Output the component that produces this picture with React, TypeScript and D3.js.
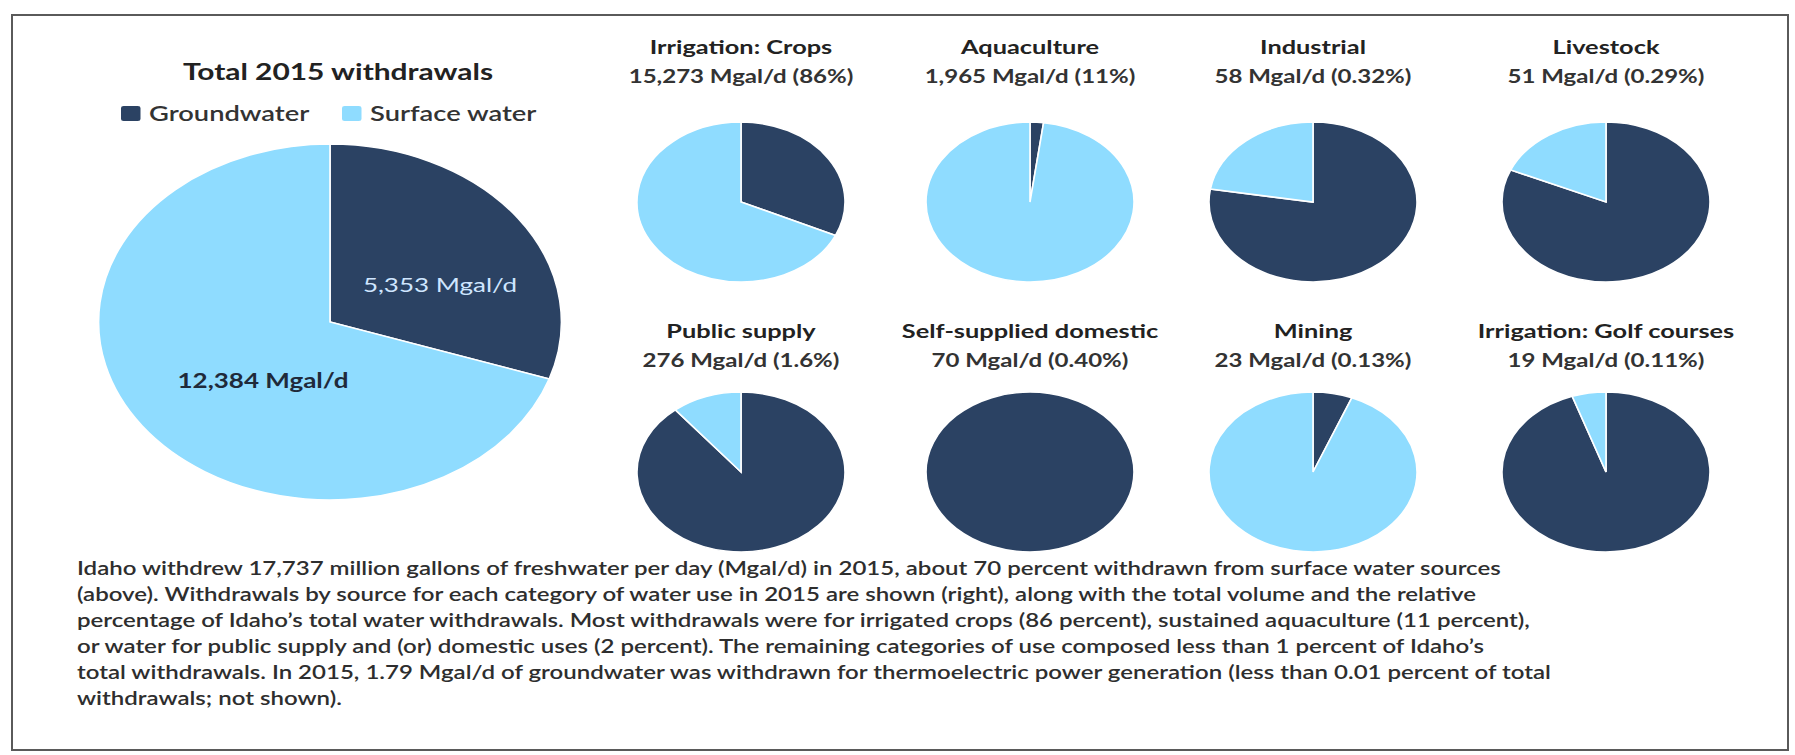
import * as d3 from 'd3';

// horizontal stretch of the original figure (pies and text are wider than tall)
const K = 1.3;
const GROUND = '#2b4263';
const SURFACE = '#8fdcff';
const FONT = "Lato, 'Open Sans', sans-serif";

const sources = ['Groundwater', 'Surface water'];
const totalValues = [5353, 12384];

const categories = [
  'Irrigation: Crops',
  'Aquaculture',
  'Industrial',
  'Livestock',
  'Public supply',
  'Self-supplied domestic',
  'Mining',
  'Irrigation: Golf courses',
];
const categoryTotals = [15273, 1965, 58, 51, 276, 70, 23, 19];
const categoryShares = ['86%', '11%', '0.32%', '0.29%', '1.6%', '0.40%', '0.13%', '0.11%'];
const groundwater = [4870, 41, 45, 41.6, 246, 70, 1.4, 18];
const surfaceWater = [10403, 1924, 13, 9.4, 30, 0, 21.6, 1];

const captionLines = [
  'Idaho withdrew 17,737 million gallons of freshwater per day (Mgal/d) in 2015, about 70 percent withdrawn from surface water sources',
  '(above). Withdrawals by source for each category of water use in 2015 are shown (right), along with the total volume and the relative',
  'percentage of Idaho\u2019s total water withdrawals. Most withdrawals were for irrigated crops (86 percent), sustained aquaculture (11 percent),',
  'or water for public supply and (or) domestic uses (2 percent). The remaining categories of use composed less than 1 percent of Idaho\u2019s',
  'total withdrawals. In 2015, 1.79 Mgal/d of groundwater was withdrawn for thermoelectric power generation (less than 0.01 percent of total',
  'withdrawals; not shown).',
];

const colX = [741, 1030, 1313, 1606];
const rowY = [202, 472];
const fmt = d3.format(',');
const color = d3.scaleOrdinal<string, string>().domain(sources).range([GROUND, SURFACE]);

const pie = d3.pie<number>().sort(null).value((d) => d);

function Pie({ cx, cy, r, values }: { cx: number; cy: number; r: number; values: number[] }) {
  const arc = d3.arc<d3.PieArcDatum<number>>().innerRadius(0).outerRadius(r);
  const arcs = pie(values).filter((a) => a.value > 0);
  return (
    <g transform={`translate(${cx},${cy}) scale(${K},1)`}>
      {arcs.map((a) => (
        <path
          key={a.index}
          d={arc(a) || ''}
          fill={color(sources[a.index])}
          stroke="#fff"
          strokeWidth={1.6}
          vectorEffect="non-scaling-stroke"
        />
      ))}
    </g>
  );
}

function Txt({ x, y, size, weight = 400, fill = '#222', anchor = 'middle', children }: any) {
  return (
    <g transform={`translate(${x},${y}) scale(${K},1)`}>
      <text textAnchor={anchor} fontSize={size} fontWeight={weight} fill={fill} fontFamily={FONT}>
        {children}
      </text>
    </g>
  );
}

export default function App() {
  const W = 1795;
  const H = 755;
  const legendX = [121, 342];
  return (
    <div style={{ position: 'absolute', left: 0, top: 0 }}>
      <svg width={W} height={H} style={{ display: 'block', background: '#fff' }}>
        <rect x={12} y={15} width={1776} height={735} fill="none" stroke="#5a5a5a" strokeWidth={2} />

        <Txt x={338} y={80} size={23} weight={700} fill="#222">
          Total 2015 withdrawals
        </Txt>
        {sources.map((s, i) => (
          <g key={s}>
            <g transform={`translate(${legendX[i]},106) scale(${K},1)`}>
              <rect width={15} height={15} rx={2} fill={color(s)} />
            </g>
            <Txt x={legendX[i] + 28} y={121} size={21} weight={600} fill="#333" anchor="start">
              {s}
            </Txt>
          </g>
        ))}

        <Pie cx={330} cy={322} r={178} values={totalValues} />
        <Txt x={440} y={292} size={20} fill="#cfe6ff">
          {fmt(totalValues[0])} Mgal/d
        </Txt>
        <Txt x={263} y={388} size={20} weight={700} fill="#1f2a3a">
          {fmt(totalValues[1])} Mgal/d
        </Txt>

        {categories.map((c, i) => {
          const cx = colX[i % 4];
          const row = Math.floor(i / 4);
          const cy = rowY[row];
          const ty = row === 0 ? 54 : 338;
          return (
            <g key={c}>
              <Txt x={cx} y={ty} size={19.5} weight={700} fill="#222">
                {c}
              </Txt>
              <Txt x={cx} y={ty + 29} size={18.5} weight={700} fill="#333">
                {fmt(categoryTotals[i])} Mgal/d ({categoryShares[i]})
              </Txt>
              <Pie cx={cx} cy={cy} r={80} values={[groundwater[i], surfaceWater[i]]} />
            </g>
          );
        })}

        {captionLines.map((line, i) => (
          <Txt key={i} x={77} y={575 + i * 26} size={18.5} weight={600} fill="#2e2e2e" anchor="start">
            {line}
          </Txt>
        ))}
      </svg>
    </div>
  );
}
